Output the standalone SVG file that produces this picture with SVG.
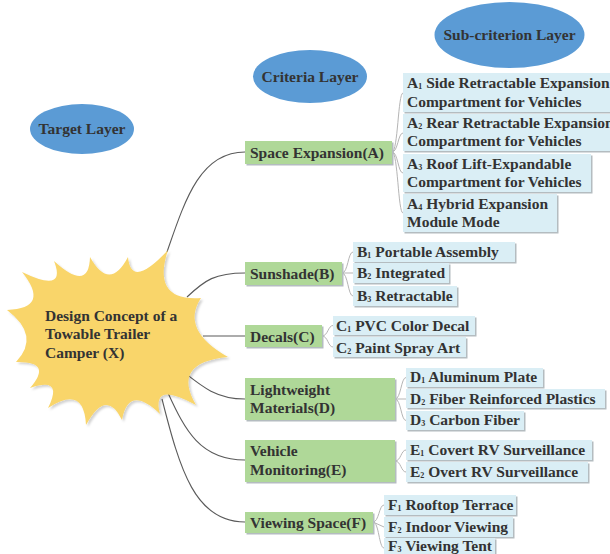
<svg xmlns="http://www.w3.org/2000/svg" width="610" height="554" viewBox="0 0 610 554">
<style>
text{font-family:"Liberation Serif","DejaVu Serif",serif;font-weight:bold;font-size:15.5px;fill:#333}
.s{font-size:13.5px}
.layer{fill:#5B9BD5}
.crit{fill:#AFD898}
.sub{fill:#DAEEF5}
.shd{fill:#B4BCC0}
.main{fill:none;stroke:#5a5a5a;stroke-width:1.1}
.br{fill:none;stroke:#b5b5b5;stroke-width:1}
</style>
<defs>
<filter id="burstShadow" x="-10%" y="-10%" width="120%" height="120%">
<feDropShadow dx="2" dy="2" stdDeviation="1.2" flood-color="#000" flood-opacity="0.18"/>
</filter>
</defs>
<rect width="610" height="554" fill="#fff"/>

<g id="target-layer"><ellipse class="layer" cx="82" cy="129" rx="52" ry="25"/><text x="82" y="134" text-anchor="middle">Target Layer</text></g>
<g id="criteria-layer"><ellipse class="layer" cx="310" cy="76.5" rx="57" ry="26.5"/><text x="310" y="82" text-anchor="middle">Criteria Layer</text></g>
<g id="subcriterion-layer"><ellipse class="layer" cx="509.5" cy="35" rx="75" ry="33"/><text x="509.5" y="40" text-anchor="middle">Sub-criterion Layer</text></g>

<g id="connectors">
<path class="main" d="M167,252 C185,200 200,152 245,152"/>
<path class="main" d="M187,297 C205,280 215,273 245,273"/>
<path class="main" d="M203,336 L245,336"/>
<path class="main" d="M180,369 C200,385 215,399 245,399"/>
<path class="main" d="M168,393 C185,430 200,460 245,460"/>
<path class="main" d="M162,399 C180,470 195,522 245,522"/>
<path class="br" d="M392,152 C398,152 398,93 403,93 M392,152 C398,152 398,133 403,133 M392,152 C398,152 398,173 403,173 M392,152 C398,152 398,213 403,213"/>
<path class="br" d="M342,273 C348,273 348,252 353,252 M342,273 L353,273 M342,273 C348,273 348,296 353,296"/>
<path class="br" d="M322,336 C328,336 328,325.5 333,325.5 M322,336 C328,336 328,347 333,347"/>
<path class="br" d="M395,399 C401,399 401,377.5 406,377.5 M395,399 L406,399 M395,399 C401,399 401,420.5 406,420.5"/>
<path class="br" d="M395,461 C401,461 401,450 406,450 M395,461 C401,461 401,472 406,472"/>
<path class="br" d="M373,522 C379,522 379,505 384,505 M373,522 L384,527 M373,522 C379,522 379,548 384,548"/>
</g>

<g id="goal">
<path filter="url(#burstShadow)" fill="#F9D56A" d="M7,310 Q51,308 22,272 Q67,294 54,261 Q89,293 90,257 Q109.5,292 128,257 Q131,290 168,250 Q151,301.5 201,298 Q180,330 228,357 Q171,362.6 196,405 Q151,380 160,414 Q128.6,384 122,420 Q106.4,387.5 86,425 Q84,384 48,408 Q64,376 30,388 Q53.5,361 16,362 Q41,335.7 7,310 Z"/>
<text x="45" y="321">Design Concept of a</text>
<text x="45" y="339">Towable Trailer</text>
<text x="45" y="358">Camper (X)</text>
</g>

<g id="crit-A"><rect class="shd" x="246.5" y="142.5" width="147" height="23"/><rect class="crit" x="245" y="141" width="147" height="23"/><text x="250" y="158">Space Expansion(A)</text></g>
<g id="crit-B"><rect class="shd" x="246.5" y="263.5" width="97" height="23"/><rect class="crit" x="245" y="262" width="97" height="23"/><text x="250" y="279">Sunshade(B)</text></g>
<g id="crit-C"><rect class="shd" x="246.5" y="326.5" width="77" height="22"/><rect class="crit" x="245" y="325" width="77" height="22"/><text x="250" y="342">Decals(C)</text></g>
<g id="crit-D"><rect class="shd" x="246.5" y="379.5" width="150" height="42"/><rect class="crit" x="245" y="378" width="150" height="42"/><text x="250" y="395">Lightweight</text><text x="250" y="413">Materials(D)</text></g>
<g id="crit-E"><rect class="shd" x="246.5" y="441.5" width="150" height="42"/><rect class="crit" x="245" y="440" width="150" height="42"/><text x="250" y="456">Vehicle</text><text x="250" y="475">Monitoring(E)</text></g>
<g id="crit-F"><rect class="shd" x="246.5" y="513.5" width="128" height="21"/><rect class="crit" x="245" y="512" width="128" height="21"/><text x="250" y="528">Viewing Space(F)</text></g>

<g id="sub-A1"><rect class="shd" x="404.5" y="74.5" width="210" height="39"/><rect class="sub" x="403" y="73" width="210" height="39"/><text x="407" y="88">A<tspan class="s" dy="-2.5">₁</tspan><tspan dy="2.5"> Side Retractable Expansion</tspan></text><text x="407" y="107">Compartment for Vehicles</text></g>
<g id="sub-A2"><rect class="shd" x="404.5" y="115.5" width="210" height="37"/><rect class="sub" x="403" y="114" width="210" height="37"/><text x="407" y="128">A<tspan class="s" dy="-2.5">₂</tspan><tspan dy="2.5"> Rear Retractable Expansion</tspan></text><text x="407" y="146">Compartment for Vehicles</text></g>
<g id="sub-A3"><rect class="shd" x="404.5" y="155.5" width="188" height="38"/><rect class="sub" x="403" y="154" width="188" height="38"/><text x="407" y="169">A<tspan class="s" dy="-2.5">₃</tspan><tspan dy="2.5"> Roof Lift-Expandable</tspan></text><text x="407" y="187">Compartment for Vehicles</text></g>
<g id="sub-A4"><rect class="shd" x="404.5" y="195.5" width="154" height="38"/><rect class="sub" x="403" y="194" width="154" height="38"/><text x="407" y="209">A<tspan class="s" dy="-2.5">₄</tspan><tspan dy="2.5"> Hybrid Expansion</tspan></text><text x="407" y="227">Module Mode</text></g>

<g id="sub-B1"><rect class="shd" x="354.5" y="243.5" width="162" height="20"/><rect class="sub" x="353" y="242" width="162" height="20"/><text x="357" y="257">B<tspan class="s" dy="-2.5">₁</tspan><tspan dy="2.5"> Portable Assembly</tspan></text></g>
<g id="sub-B2"><rect class="shd" x="354.5" y="264.5" width="96" height="20"/><rect class="sub" x="353" y="263" width="96" height="20"/><text x="357" y="278">B<tspan class="s" dy="-2.5">₂</tspan><tspan dy="2.5"> Integrated</tspan></text></g>
<g id="sub-B3"><rect class="shd" x="354.5" y="287.5" width="104" height="20"/><rect class="sub" x="353" y="286" width="104" height="20"/><text x="357" y="301">B<tspan class="s" dy="-2.5">₃</tspan><tspan dy="2.5"> Retractable</tspan></text></g>

<g id="sub-C1"><rect class="shd" x="334.5" y="317.5" width="142" height="19"/><rect class="sub" x="333" y="316" width="142" height="19"/><text x="336" y="331">C<tspan class="s" dy="-2.5">₁</tspan><tspan dy="2.5"> PVC Color Decal</tspan></text></g>
<g id="sub-C2"><rect class="shd" x="334.5" y="338.5" width="133" height="20"/><rect class="sub" x="333" y="337" width="133" height="20"/><text x="336" y="353">C<tspan class="s" dy="-2.5">₂</tspan><tspan dy="2.5"> Paint Spray Art</tspan></text></g>

<g id="sub-D1"><rect class="shd" x="407.5" y="369.5" width="137" height="19"/><rect class="sub" x="406" y="368" width="137" height="19"/><text x="410" y="382">D<tspan class="s" dy="-2.5">₁</tspan><tspan dy="2.5"> Aluminum Plate</tspan></text></g>
<g id="sub-D2"><rect class="shd" x="407.5" y="390.5" width="199" height="19"/><rect class="sub" x="406" y="389" width="199" height="19"/><text x="410" y="404">D<tspan class="s" dy="-2.5">₂</tspan><tspan dy="2.5"> Fiber Reinforced Plastics</tspan></text></g>
<g id="sub-D3"><rect class="shd" x="407.5" y="412.5" width="118" height="19"/><rect class="sub" x="406" y="411" width="118" height="19"/><text x="410" y="425">D<tspan class="s" dy="-2.5">₃</tspan><tspan dy="2.5"> Carbon Fiber</tspan></text></g>

<g id="sub-E1"><rect class="shd" x="407.5" y="441.5" width="186" height="20"/><rect class="sub" x="406" y="440" width="186" height="20"/><text x="410" y="455">E<tspan class="s" dy="-2.5">₁</tspan><tspan dy="2.5"> Covert RV Surveillance</tspan></text></g>
<g id="sub-E2"><rect class="shd" x="407.5" y="463.5" width="182" height="20"/><rect class="sub" x="406" y="462" width="182" height="20"/><text x="410" y="477">E<tspan class="s" dy="-2.5">₂</tspan><tspan dy="2.5"> Overt RV Surveillance</tspan></text></g>

<g id="sub-F1"><rect class="shd" x="385.5" y="496.5" width="132" height="20"/><rect class="sub" x="384" y="495" width="132" height="20"/><text x="388" y="510">F<tspan class="s" dy="-2.5">₁</tspan><tspan dy="2.5"> Rooftop Terrace</tspan></text></g>
<g id="sub-F2"><rect class="shd" x="385.5" y="518.5" width="129" height="20"/><rect class="sub" x="384" y="517" width="129" height="20"/><text x="388" y="532">F<tspan class="s" dy="-2.5">₂</tspan><tspan dy="2.5"> Indoor Viewing</tspan></text></g>
<g id="sub-F3"><rect class="shd" x="385.5" y="539.5" width="111" height="16"/><rect class="sub" x="384" y="538" width="111" height="16"/><text x="388" y="551">F<tspan class="s" dy="-2.5">₃</tspan><tspan dy="2.5"> Viewing Tent</tspan></text></g>
</svg>
